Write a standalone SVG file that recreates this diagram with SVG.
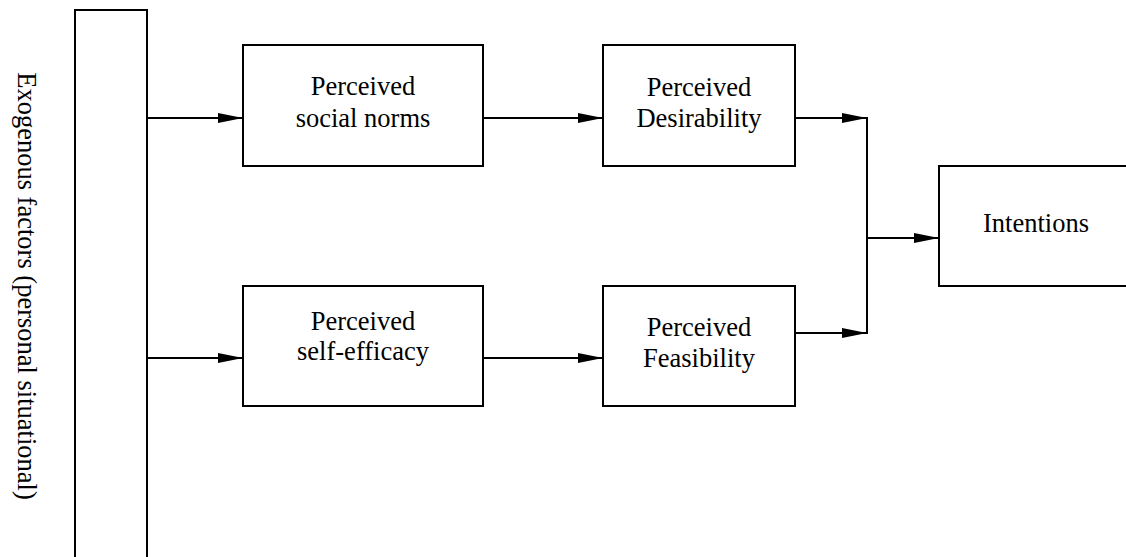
<svg xmlns="http://www.w3.org/2000/svg" width="1126" height="557" viewBox="0 0 1126 557">
<style>
.box{fill:#fff;stroke:#000;stroke-width:2}
.t{font-family:"Liberation Serif","Times New Roman",serif;font-size:26.5px;fill:#000;text-anchor:middle}
.c{stroke:#000;stroke-width:2;fill:none}
</style>
<defs>
<marker id="ah" markerUnits="userSpaceOnUse" markerWidth="26" markerHeight="12" refX="25" refY="5" orient="auto">
<path d="M0,0 L25,5 L0,10 z" fill="#000"/>
</marker>
</defs>
<rect width="1126" height="557" fill="#fff"/>
<g id="exogenous">
<rect class="box" x="75" y="10" width="72" height="560"/>
<text class="t" transform="translate(18,286) rotate(90)">Exogenous factors (personal situational)</text>
</g>
<g id="social-norms">
<rect class="box" x="243" y="45" width="240" height="121"/>
<text class="t" x="363" y="95">Perceived</text>
<text class="t" x="363" y="127">social norms</text>
</g>
<g id="desirability">
<rect class="box" x="603" y="45" width="192" height="121"/>
<text class="t" x="699" y="96">Perceived</text>
<text class="t" x="699" y="127">Desirability</text>
</g>
<g id="self-efficacy">
<rect class="box" x="243" y="286" width="240" height="120"/>
<text class="t" x="363" y="330">Perceived</text>
<text class="t" x="363" y="360">self-efficacy</text>
</g>
<g id="feasibility">
<rect class="box" x="603" y="286" width="192" height="120"/>
<text class="t" x="699" y="336">Perceived</text>
<text class="t" x="699" y="367">Feasibility</text>
</g>
<g id="intentions">
<rect class="box" x="939" y="166" width="200" height="120"/>
<text class="t" x="1036" y="232">Intentions</text>
</g>
<g id="connectors">
<line class="c" x1="147" y1="118" x2="243" y2="118" marker-end="url(#ah)"/>
<line class="c" x1="147" y1="358" x2="243" y2="358" marker-end="url(#ah)"/>
<line class="c" x1="483" y1="118" x2="603" y2="118" marker-end="url(#ah)"/>
<line class="c" x1="483" y1="358" x2="603" y2="358" marker-end="url(#ah)"/>
<line class="c" x1="795" y1="118" x2="867" y2="118" marker-end="url(#ah)"/>
<line class="c" x1="795" y1="333" x2="867" y2="333" marker-end="url(#ah)"/>
<line class="c" x1="867" y1="117" x2="867" y2="334"/>
<line class="c" x1="867" y1="238" x2="939" y2="238" marker-end="url(#ah)"/>
</g>
</svg>
